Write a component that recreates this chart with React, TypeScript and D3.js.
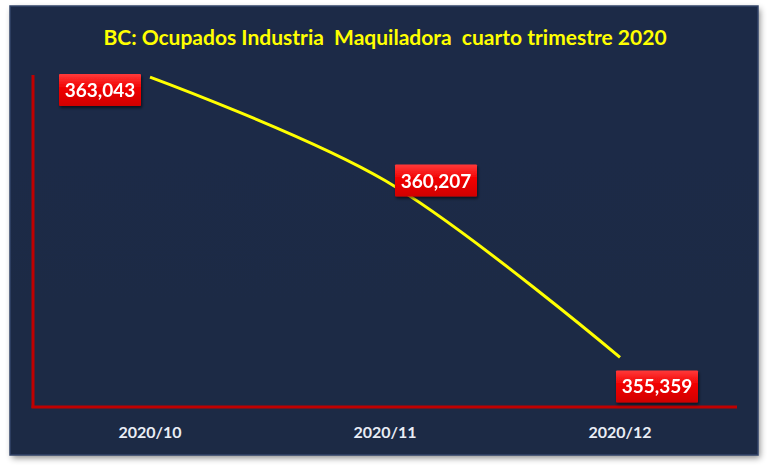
import React from "react";
import * as d3 from "d3";

const categories = ["2020/10", "2020/11", "2020/12"];
const values = [363043, 360207, 355359];
const valueLabels = ["363,043", "360,207", "355,359"];
const title = "BC: Ocupados Industria  Maquiladora  cuarto trimestre 2020";

const W = 770;
const H = 470;

export default function App() {
  const x = d3.scalePoint<string>().domain(categories).range([150, 620]);
  const y = d3.scaleLinear().domain([354000, 363100]).range([407, 75]);
  const pts: [number, number][] = categories.map((c, i) => [x(c) as number, y(values[i])]);
  const line = d3.line().curve(d3.curveCatmullRom.alpha(0.5))(pts) as string;

  const offs = [
    [-50, 13],
    [51, 0],
    [37, 29],
  ];
  const bw = 82;
  const bh = 32;

  return (
    <svg
      width={W}
      height={H}
      style={{ position: "absolute", left: 0, top: 0, background: "#ffffff" }}
      fontFamily="Lato, 'Open Sans', sans-serif"
    >
      <defs>
        <linearGradient id="panel" x1="0" y1="0" x2="0" y2="1">
          <stop offset="0" stopColor="#1b2b47" />
          <stop offset="1" stopColor="#1a2944" />
        </linearGradient>
        <linearGradient id="lab" x1="0" y1="0" x2="0" y2="1">
          <stop offset="0" stopColor="#ff3a3a" />
          <stop offset="0.45" stopColor="#f00000" />
          <stop offset="1" stopColor="#d00000" />
        </linearGradient>
        <filter id="shadow" x="-10%" y="-10%" width="120%" height="130%">
          <feDropShadow dx="2" dy="3" stdDeviation="3" floodColor="#000" floodOpacity="0.45" />
        </filter>
        <filter id="lshadow" x="-20%" y="-30%" width="140%" height="170%">
          <feDropShadow dx="1" dy="2" stdDeviation="1.5" floodColor="#000" floodOpacity="0.6" />
        </filter>
      </defs>
      <rect x={10} y={6} width={748} height={449} fill="url(#panel)" filter="url(#shadow)" />
      <rect x={10} y={6} width={748} height={449} fill="none" stroke="#33456a" strokeWidth={1.5} />
      <text
        x={385}
        y={45}
        textAnchor="middle"
        fill="#ffff00"
        fontWeight="bold"
        fontSize={21}
        style={{ whiteSpace: "pre" }}
      >
        {title}
      </text>
      <line x1={33} y1={75} x2={33} y2={408} stroke="#c00000" strokeWidth={3} />
      <line x1={31.5} y1={407} x2={737} y2={407} stroke="#c00000" strokeWidth={3} />
      {categories.map((c) => (
        <text
          key={c}
          x={x(c) as number}
          y={438}
          textAnchor="middle"
          fill="#e9edf5"
          fontWeight="bold"
          fontSize={16}
        >
          {c}
        </text>
      ))}
      <path d={line} fill="none" stroke="#ffff00" strokeWidth={3} />
      {pts.map(([px, py], i) => {
        const cx = px + offs[i][0];
        const cy = py + offs[i][1];
        return (
          <g key={i} filter="url(#lshadow)">
            <rect x={cx - bw / 2} y={cy - bh / 2} width={bw} height={bh} fill="url(#lab)" rx={1} />
            <text
              x={cx}
              y={cy + 7}
              textAnchor="middle"
              fill="#ffffff"
              fontWeight="bold"
              fontSize={19}
            >
              {valueLabels[i]}
            </text>
          </g>
        );
      })}
    </svg>
  );
}
